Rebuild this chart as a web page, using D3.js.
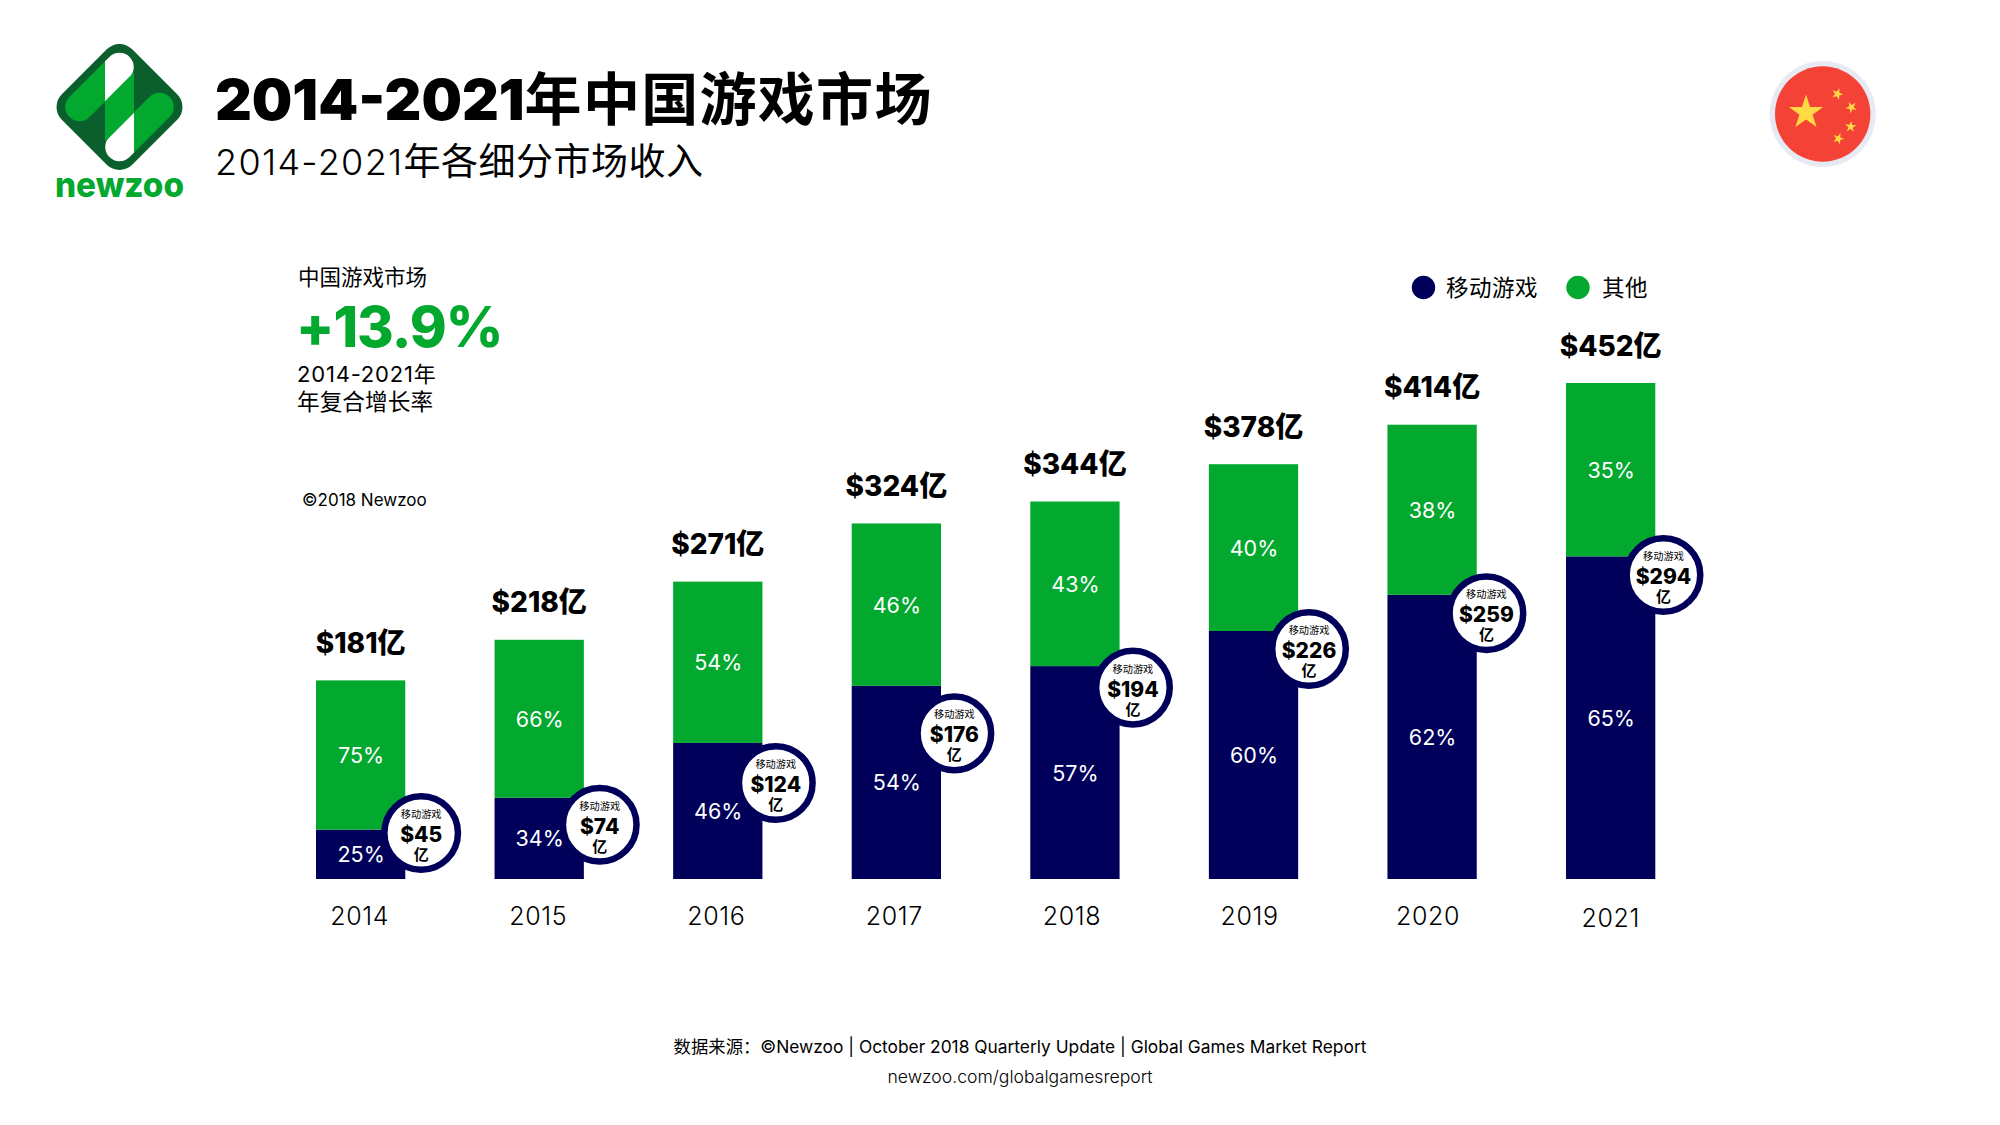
<!DOCTYPE html>
<html><head><meta charset="utf-8">
<script src="https://d3js.org/d3.v7.min.js"></script>
<style>
html,body{margin:0;padding:0;background:#fff}
svg{display:block}
text{font-family:Inter,"Noto Sans CJK SC",sans-serif;fill:#000}
</style></head><body>
<svg id="c" width="2000" height="1125"></svg>
<script>
const years=["2014","2015","2016","2017","2018","2019","2020","2021"];
const totals=[181,218,271,324,344,378,414,452];
const mobile=[45,74,124,176,194,226,259,294];
const mobileShare=[25,34,46,54,57,60,62,65];
const otherShare=[75,66,54,46,43,40,38,35];
const seriesKeys=["mobile","other"];
const seriesNames=["移动游戏","其他"];
const bubbleDx=[60.5,60.5,58,58,58,55.5,54.3,52.8];
const bubbleDy=[3.4,27,40,47.5,21.5,18,18.5,18.6];
const yearDx=[-1,-1,-1.5,-2,-3,-4,-4,0];
const NAVY="#00005a",GREEN="#03a82f",DARK="#0b5f2c";

const rows=years.map((y,i)=>({year:y,mobile:mobile[i],other:totals[i]-mobile[i],i}));
const svg=d3.select("#c");
const x=d3.scaleBand().domain(years).range([316,1655.3]).paddingInner(.5);
const y=d3.scaleLinear().domain([0,452]).range([879,383]);
const color=d3.scaleOrdinal(seriesKeys,[NAVY,GREEN]);
const stack=d3.stack().keys(seriesKeys)(rows);

function label(sel,o){
  const t=sel.append("text").attr("x",o.x).attr("y",o.y).attr("font-size",o.size)
    .attr("font-weight",o.weight||400).attr("text-anchor",o.anchor||"start").text(o.text);
  if(o.fill)t.style("fill",o.fill);
  if(o.ls)t.attr("letter-spacing",o.ls);
  return t;
}

// logo
const logo=svg.append("g").attr("transform","translate(119.5,107)");
const defs=svg.append("defs");
defs.append("clipPath").attr("id","colL").append("rect").attr("x",-80).attr("y",-80).attr("width",65.5).attr("height",160);
defs.append("clipPath").attr("id","colR").append("rect").attr("x",14.5).attr("y",-80).attr("width",65.5).attr("height",160);
defs.append("clipPath").attr("id","colM").append("rect").attr("x",-14.5).attr("y",-80).attr("width",29).attr("height",160);
logo.append("rect").attr("x",-49.8).attr("y",-49.8).attr("width",99.6).attr("height",99.6).attr("rx",18)
  .attr("transform","rotate(45)").attr("fill",DARK);
const stripe=(x1,y1,x2,y2,clip,col)=>logo.append("line").attr("x1",x1).attr("y1",y1).attr("x2",x2).attr("y2",y2)
  .attr("stroke",col).attr("stroke-width",28.5).attr("stroke-linecap","round").attr("clip-path",`url(#${clip})`);
stripe(-40,0,0,-40,"colL",GREEN);
stripe(-40,0,0,-40,"colM","#fff");
stripe(0,40,40,0,"colR",GREEN);
stripe(0,40,40,0,"colM","#fff");
logo.append("path").attr("d","M-14.5,-5.7L14.5,-34.7L14.5,5.7L-14.5,34.7Z").attr("fill",GREEN);
label(svg,{x:55,y:197,size:35,weight:800,text:"newzoo",fill:GREEN}).attr("textLength",129).attr("lengthAdjust","spacingAndGlyphs");

// title
const title=svg.append("text").attr("x",215).attr("y",120).attr("font-weight",900);
title.append("tspan").attr("font-size",57).text("2014-2021");
title.append("tspan").attr("font-size",57).attr("font-weight",700).attr("letter-spacing",1.3).text("年中国游戏市场");
const sub=svg.append("text").attr("x",215).attr("y",175).attr("font-weight",300);
sub.append("tspan").attr("font-size",36).attr("letter-spacing",1.3).text("2014-2021");
sub.append("tspan").attr("font-size",37).attr("font-weight",400).attr("letter-spacing",.5).text("年各细分市场收入");

// flag
const flag=svg.append("g").attr("transform","translate(1822.7,114)");
flag.append("circle").attr("r",53).attr("fill","#e8eaf3");
flag.append("circle").attr("r",47.7).attr("fill","#f44336");
const starPath=r=>{const p=[];for(let k=0;k<10;k++){const a=-Math.PI/2+k*Math.PI/5,q=k%2?r*.382:r;p.push([q*Math.cos(a),q*Math.sin(a)]);}return d3.line()(p)+"Z";};
const stars=[[-16.7,-1.5,18,0],[14.7,-20,6,20],[28.7,-6.7,6,45],[28,12.7,6,5],[15.7,24.7,6,20]];
flag.selectAll("path").data(stars).join("path").attr("d",d=>starPath(d[2]))
  .attr("transform",d=>`translate(${d[0]},${d[1]}) rotate(${d[3]})`).attr("fill","#ffda44");

// left block
label(svg,{x:298,y:285,size:21.5,text:"中国游戏市场"});
label(svg,{x:296,y:347,size:56,weight:800,ls:-1,text:"+13.9%",fill:GREEN});
const cagr=label(svg,{x:297,y:382,size:22,text:""});
cagr.append("tspan").attr("letter-spacing",.8).text("2014-2021");
cagr.append("tspan").text("年");
label(svg,{x:297,y:410,size:22.7,text:"年复合增长率"});
label(svg,{x:302,y:506,size:17,weight:400,text:"©2018 Newzoo"});

// legend
const legendX=[1423.5,1578],legendTextX=[1446,1602];
seriesKeys.forEach((k,i)=>{
  svg.append("circle").attr("cx",legendX[i]).attr("cy",287.5).attr("r",11.7).attr("fill",color(k));
  label(svg,{x:legendTextX[i],y:296,size:22.5,ls:.5,text:seriesNames[i]});
});

// bars
svg.append("g").selectAll("g").data(stack).join("g").attr("fill",d=>color(d.key))
  .selectAll("rect").data(d=>d).join("rect")
  .attr("x",d=>x(d.data.year)).attr("width",x.bandwidth())
  .attr("y",d=>y(d[1])).attr("height",d=>y(d[0])-y(d[1]));

// percentage labels
const cx=yr=>x(yr)+x.bandwidth()/2;
stack.forEach((s,si)=>{
  const shares=si===0?mobileShare:otherShare;
  svg.append("g").selectAll("text").data(s).join("text")
    .attr("x",d=>cx(d.data.year)+.5).attr("y",d=>(y(d[0])+y(d[1]))/2+8)
    .attr("text-anchor","middle").attr("font-size",21.5).attr("font-weight",400).style("fill","#fff")
    .text((d,i)=>shares[i]+"%");
});

// total labels
svg.append("g").selectAll("text").data(rows).join("text")
  .attr("x",d=>cx(d.year)).attr("y",d=>y(totals[d.i])-27.5)
  .attr("text-anchor","middle").attr("font-size",28).attr("font-weight",800)
  .text(d=>"$"+totals[d.i]+"亿");

// year axis
const axis=svg.append("g").attr("transform","translate(0,879)")
  .call(d3.axisBottom(x).tickSize(0).tickPadding(28));
axis.select(".domain").remove();
axis.selectAll("text").attr("font-size",25).attr("font-weight",300).attr("letter-spacing",.6).attr("dy",null).attr("y",46)
  .attr("x",(d,i)=>yearDx[i]).attr("transform",(d,i)=>i===7?"translate(0,2)":null);
axis.attr("font-family",null).attr("font-size",null);

// bubbles
const bub=svg.append("g").selectAll("g").data(rows).join("g")
  .attr("transform",d=>`translate(${cx(d.year)+bubbleDx[d.i]},${y(d.mobile)+bubbleDy[d.i]})`);
bub.append("circle").attr("r",36.8).attr("fill","#fff").attr("stroke",NAVY).attr("stroke-width",6.5);
bub.append("text").attr("y",-15).attr("text-anchor","middle").attr("font-size",10.2).text(seriesNames[0]);
bub.append("text").attr("y",9).attr("text-anchor","middle").attr("font-size",21).attr("font-weight",800).text(d=>"$"+d.mobile);
bub.append("text").attr("y",27).attr("text-anchor","middle").attr("font-size",15).attr("font-weight",700).text("亿");

// footer
label(svg,{x:1020,y:1053,size:17.35,weight:400,anchor:"middle",text:"数据来源：©Newzoo | October 2018 Quarterly Update | Global Games Market Report"});
label(svg,{x:1020,y:1083,size:17.6,weight:300,anchor:"middle",text:"newzoo.com/globalgamesreport"});
</script></body></html>
